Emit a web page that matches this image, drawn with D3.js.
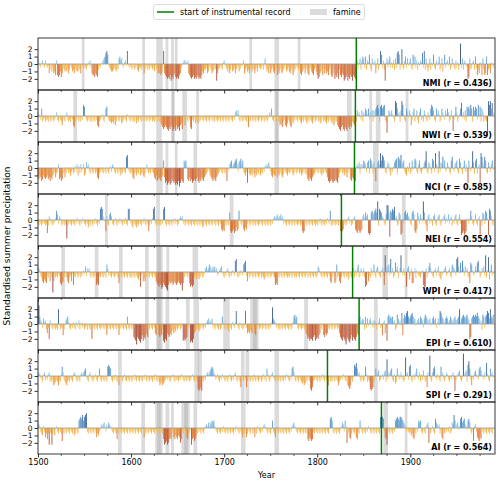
<!DOCTYPE html>
<html><head><meta charset="utf-8">
<script src="https://cdn.jsdelivr.net/npm/d3@7/dist/d3.min.js"></script>
<style>body{margin:0;background:#fff} svg{font-family:"DejaVu Sans",sans-serif}</style>
</head><body><svg id="c" width="500" height="482"></svg>
<script>
// ---- DATA ----
const regions = ["NMI","NWI","NCI","NEI","WPI","EPI","SPI","AI"];
const correlations = ["0.436","0.539","0.585","0.554","0.417","0.610","0.291","0.564"];
const instrumentStart = [1842,1841,1840,1826,1838,1845,1811,1869];
const firstYear = 1500;
const xTickLabels = [1500,1600,1700,1800,1900];
const yTickValues = [-2,-1,0,1,2];
// value code: a=-3.0 ... m=0 ... y=+3.0, z=+3.25 (steps of 0.25); one char per year, groups of 10 years
const valueCodes = "abcdefghijklmnopqrstuvwxyz";
const seriesNMI = "pnlknolkol klhjlikhig ogfgifhkji jikhjlkijh kjiikjhlkj lkjlnlokhg gfhgfjlkmn opqstrlkji ijkjikjpqo plknoltlkl kjlkjkljik kjlkhjkljk jlkjkiljkh highkthgfe fegdfeghfe feghklnoon nohgfefgef egfefegihj jkhilkjhij kjdhjklkjn olkjikhjli jkhjklijkl lohjkijhkj ikjhjkilkj kljlpkijhk hjkihjkgih jkhijklijk ihjkgijklk jkhgijkhjk hgjkihgjki gefhijgkhj higjkgfhje gfhejgfhgd efgdfegfdg fehoknpjoq pkqjonrkip nlohkpjltr kojdnpkoqk nkojpkstrj lukjoqkpln pkjrlqkojn lonsktjpki kpjnlrkjol nqjkpilrkn olqjkpnkjo knjlxkpjon lkefpjknoj qkgjhnkgpj ghqgjkhnlk";
const seriesNWI = "onlkqjkljk kjlkjlkjkl okjlkjhlkj lokjkjlkhg jklkjljlks rlkjkljkjl kjlkhgjkln kjlqrlkjji jikhjlkjkl ijklkjnlkj kljkjlikjl kjlkjlkjkl jkljkjkljk jkihgfghgf egfhgefgeh fgehifjkhl kjlkgfkjli kjiljklkjl kjlkjlkljk jlkjkljlkj lkjkljklkj lkopnpkjlk jklkjlgkjl kjlkjlkjkl jkljlkjklo lqkjlkjlkj hihgjkhgik jhgkijklkj lkjikjlkji kjlkjikljk ljkjikljkj ikjlkjikhj kjhgfeghfe gfehgfhgji hkjpnolkpj onqpnqkolp jplqrsqjrs qrskjdlpon pnljutqnoj pusnkjqolp nhkoqjlpki oqkljpnkjo lkqsrpkjqn pnjkqolkpn qojkpleknr ojlnqtlokp jrqrpsqjrp rqkslrjqoj lkjcusuqto";
const seriesNCI = "hgihfgihgh ighfhgijkh jkoghfgjkh jkljkikljk nkoinjoklo ijpnokjlkj kljkhgjklk jlkjlkjlnk onkjlkjlki kjlkjstlkj kjhgjkikjl ijkihjlokj kjlkjhgifg hgfhiqhefd efdegfefde dfcegfeqpq ngfhfgefgf ghfegfhgfh ijklkihgfh gfhijklkjl kjlfklopqn opqrokpqro qkjikeljij ikjhjikjli kjlknonopn kihjiikhji jkihjlkjik jklkijkljk ljkijkljki gfhgfhijkl kjlkjikjlk jhfefgfeff gfehjkljki jkhjlkgfhg gfnonpjoon qpokpqjrqo jpkfnpqouq tsqkjnpoki lknpqrjsrq topqkjinkp jkqlnrqkjo qkjlnpqvkj poljrqkuon jvkposnqkl pnkjqslkop qkjrpljnqk okeqlknvpj qrjnoeuspn sqkjpnkoql";
const seriesNEI = "kjlkjklkjk fjonkljkln rpkonkjlkj kcjklkjlkj lknlkjlknl kjlkikjlkj lknkjlksts onlgokjpqo kjlnkjlknl kjlknkjssl kjilkjikjl kjlknkjlkg jlknstkjlk jkjlkstkjl kjlkjlknkl jknonokljk lkjlkjlkjl kjlkjlkijl kjlkjlkjkl kjlkjlkhgh gkjlkjqgfg hfgighrlkj lhgihklkjl kjlkjlkjkl kjlkjlkjkl jlknonopno opnoklkjlk jlkjlkjlkj kljkgfglkj lkjlkjlkjk jlknkjlkjl knlkrjkjlk jkljlgfghk ljknokljkn ohgfhgfgho pnqopfefqr pqrsqwjsrq onkjpuuqdr qsrtnojkqp efnkqrpqon kjqrpgfhqo kpnlwqkjgo pknljopkjn opkjlnopkn lpknojlkop kjnpkefgef gnlknrokjl pkjnoeljqp krqnesrokj";
const seriesWPI = "ponkjhgihg kjlhkjbhkj kjlkgfghkj ljhgjkhlfk jlkjkljkln lpkonokjlk jklfgfkjlk jlkjqoklkj lkjklkjglk jlkjlkjlkj kjlkjlkjik eklhjhkjlk jlkjlkjhgf egfdegfedc fhgghfghgf ghgfgcgjkl kjlgefefjk ijkijkljkl opnoqpnopo pnoklnoplk jlknokjlkn lkstkjlknl kqrskhljkl kjlkjlkjkl jkjijkljkl jklkjfgfkj lkjlkjlkjk jlkjlkjkjl kjlkjlkjkl jlkjlkjlkj kpolkjlkjl kjlkhgjlkg hqjkhgjlkj lkjkilkjso jnkoqjkonk ojeflhkjok nqkjoplkjn okfvkpnqkt lojkrnpjmo vnkokleopi kogglojnlk kjlnfeeojl prolkjnokn pkjiklnopk lnokjqponk tuplrnsokp nokjgrqnkl pnrsnjkonp kvjnuinqkl";
const seriesEPI = "zwqonkpnoj hkeolkjlkj kjuljkkgjl opqnkjlknk jnlkojlnkl jkljlkjlel kjlkjlkjkl kjlkgjlkjl kjlkjlkgjk lkjlkjqkjl kjlfedbfed cegdfeghfk jlkjlkhgjk gfhgjdcedh gfhgijhjik jkljkldede fjklcdcehi jkjijklkjl knopnonpkl jklkjljkql kjlkjilkjn lkntlkjnlk jkltkhihji hkjhgjkljk ljklkjlkjl knvponkljk jlkjlkjlkj kljknqrpqk jlkjkljkhg efdeedfgde feghkjlgfh ghkjlkjlkj kljkhfedfe dbfedcegdf edfhgpqnop ojqkplopnk okonjlnpkl gnohkdqrpq pqnojkrpno lsgprqstqp qrsqoplnop nqpokprqpn oplnpqopkn pltsqponpq pnoqponpqo opqunpqrqp qrpoefpqrq rqsqpnojrq kqrtspuqpr";
const seriesSPI = "nonlkjnokl knojkjkhij kjhkjnrokj ihjkjlkjno nkjlkjnono pqlkjnolkj klnkjlqkjl kjlkjrsrqk jlknkjlhkl kjlnkjlkjl kjlknkjlkj lkjlknkjlk jlkjlknkjl jhijhijklk lkjklnkjlk kjlknlkjlk jlkjklnkjl kjfefgekjl knonopqrqo nklnkjlknl kjlkjlnkjl knokjlkjgl kjlkgjlkjl kjnkjlkjkl jknkljqnkj lnolkjlkjl kjlkjlknlk jlkqrokjlk jlkjijhikj lkjfegjklk jlkjlknkjl kjhljkjlkj lkjhjklknl kjlhgfhkjl srtqnokjlk jkrnjkjfef gjkqnopjkl nkopjvkonp qkjnijqnkl okljkwnokr skjlnkoqlk ojnkpljkgo nxkjoqrlkn lkjrnokjlo nkjlknokej lnopkjlyno pjsuqkhlko pnlkqrpnlk oltnkjqnol";
const seriesAI = "ponkjinkhj gjdkjdjkil nkjlkjfkjl kjlkjlkjli jlkjqrsrtq stukjlkjlk jlkhjiklon opnkonponl kjlkjgkjlk jlkjlkjlkj lkjlkjlkjl kjnlhkjlkj lkjlkjlkjl kjlkjgdefd eghgjkhgih gihegkjlkj hgjkldghfg ijklkjlkjl nonpnpoqpq nlkjlkjlkn kjlkjlkjlk jlknlkjlkj hkjlhjlkjl kjlhkjnlkj lknonlkjlk jlqkjhlkjl kjlkjlkjlk jlknopnlkj lkjlkjlkjl gfhgfgkjlk jlkjlkjlkj lkjlrsqkjl kjlkjlnpok qnejkhgjlk jlhgkjqlkj lkjlknlkjl kjlkjlkjso srkhgdnkjl kjlkqrsrqs srqponklkj kijhgkjlkq pqkjlkjnop ekjlnkjrpo nojlhgkjlk lknjkpotqn oplnrspqro nlqrpkjlfn okhgfhglkj lkjlkjlkjl";
const seriesCodes = [seriesNMI, seriesNWI, seriesNCI, seriesNEI, seriesWPI, seriesEPI, seriesSPI, seriesAI];
// famine periods per region [start, end]
const famineNMI = [[1547,1550],[1612,1615],[1627,1634],[1637,1640],[1643,1646],[1647,1650],[1727,1730],[1754,1759],[1779,1782]];
const famineNWI = [[1538,1542],[1612,1615],[1627,1633],[1643,1647],[1644,1646],[1655,1660],[1670,1673],[1754,1759],[1755,1758],[1832,1837],[1856,1859],[1863,1868],[1895,1898]];
const famineNCI = [[1627,1634],[1637,1640],[1647,1650],[1667,1671],[1754,1759],[1860,1866]];
const famineNEI = [[1572,1575],[1627,1631],[1706,1710],[1891,1895]];
const famineWPI = [[1525,1529],[1561,1565],[1587,1591],[1615,1619],[1627,1634],[1628,1632],[1638,1641],[1666,1672],[1870,1876],[1894,1897]];
const famineEPI = [[1615,1619],[1627,1634],[1628,1632],[1637,1641],[1659,1663],[1667,1673],[1699,1706],[1728,1737],[1731,1735],[1786,1790],[1861,1865]];
const famineSPI = [[1586,1590],[1668,1673],[1672,1676],[1718,1722],[1723,1727],[1754,1759],[1861,1865]];
const famineAI = [[1586,1590],[1611,1615],[1626,1634],[1628,1632],[1637,1641],[1643,1646],[1654,1663],[1657,1661],[1667,1671],[1718,1723],[1754,1759],[1871,1876],[1894,1897]];
const famines = [famineNMI, famineNWI, famineNCI, famineNEI, famineWPI, famineEPI, famineSPI, famineAI];

// ---- DRAW ----
function decode(s){
  return s.trim().split(/\s+/).flatMap(g => g.padEnd(10,"m").slice(0,10).split("")
    .map(c => (valueCodes.indexOf(c) - 12) * 0.25));
}
const svg = d3.select("#c");
const panelTop = 38, panelH = 52, left = 38, right = 495;
const x = d3.scaleLinear().domain([1500, 1991]).range([left, right]);
const y = d3.scaleLinear().domain([-3.5, 3.5]).range([panelH, 0]);
const negColor = d3.scaleLinear().domain([0,-0.5,-1,-1.5,-2,-2.5,-3])
  .range(["#fddc80","#fbc048","#f29a2e","#dd7228","#bf512e","#9d3f2b","#823224"]).clamp(true);
const posColor = d3.scaleLinear().domain([0,0.5,1,1.5,2,3])
  .range(["#b0dbef","#88c2e3","#579dd2","#3d7ab7","#35598e","#283d68"]).clamp(true);

regions.forEach((name, i) => {
  const g = svg.append("g").attr("transform", `translate(0,${panelTop + i*panelH})`);
  const values = decode(seriesCodes[i]);
  const data = values.map((v, k) => ({year: firstYear + k, v}));
  // famine bands
  g.selectAll("rect.famine").data(famines[i]).join("rect")
    .attr("class","famine")
    .attr("x", d => x(d[0])).attr("width", d => x(d[1]) - x(d[0]))
    .attr("y", 0).attr("height", panelH)
    .attr("fill", "#aaaaaa").attr("fill-opacity", 0.42);
  // bars
  g.selectAll("rect.bar").data(data).join("rect")
    .attr("class","bar")
    .attr("x", d => x(d.year - 0.46))
    .attr("width", d => x(d.year + 0.46) - x(d.year - 0.46))
    .attr("y", d => y(Math.max(0, d.v)))
    .attr("height", d => Math.abs(y(d.v) - y(0)))
    .attr("fill", d => d.v >= 0 ? posColor(d.v) : negColor(d.v));
  // zero line
  g.append("line").attr("x1", left).attr("x2", right).attr("y1", y(0)).attr("y2", y(0))
    .attr("stroke", "#999").attr("stroke-width", 0.8);
  // instrumental record start
  g.append("line").attr("x1", x(instrumentStart[i])).attr("x2", x(instrumentStart[i]))
    .attr("y1", 0).attr("y2", panelH).attr("stroke", "#008000").attr("stroke-width", 1.5);
  // y axis
  const ya = g.append("g").attr("transform", `translate(${left},0)`)
    .call(d3.axisLeft(y).tickValues(yTickValues).tickSize(3.5).tickPadding(2)
      .tickFormat(d => d < 0 ? "\u2212" + Math.abs(d) : String(d)));
  ya.select(".domain").remove();
  ya.selectAll("text").attr("font-size", 7.5).attr("font-family", "DejaVu Sans").attr("fill", "#000");
  ya.selectAll("line").attr("stroke", "#000").attr("stroke-width", 0.8);
  // x ticks
  const isLast = i === regions.length - 1;
  const minor = d3.range(1500, 1991, 25).filter(t => t % 100 !== 0);
  g.selectAll("line.minor").data(minor).join("line").attr("class","minor")
    .attr("x1", d => x(d)).attr("x2", d => x(d)).attr("y1", panelH).attr("y2", panelH + 2)
    .attr("stroke", "#000").attr("stroke-width", 0.6);
  const xa = g.append("g").attr("transform", `translate(0,${panelH})`)
    .call(d3.axisBottom(x).tickValues(xTickLabels).tickSize(3.5).tickPadding(2)
      .tickFormat(d => isLast ? String(d) : ""));
  xa.select(".domain").remove();
  xa.selectAll("text").attr("font-size", 8).attr("font-family", "DejaVu Sans").attr("fill", "#000");
  xa.selectAll("line").attr("stroke", "#000").attr("stroke-width", 0.8);
  // frame
  g.append("rect").attr("x", left).attr("y", 0).attr("width", right - left).attr("height", panelH)
    .attr("fill", "none").attr("stroke", "#222").attr("stroke-width", 0.9);
  // label
  g.append("text").attr("x", right - 3).attr("y", panelH - 4).attr("text-anchor", "end")
    .attr("font-size", 8).attr("font-weight", "bold").text(`${name} (r = ${correlations[i]})`);
});

// axis titles
svg.append("text").attr("x", (left + right) / 2).attr("y", 478).attr("text-anchor", "middle")
  .attr("font-size", 8).text("Year");
svg.append("text").attr("transform", `translate(10,${panelTop + 4*panelH}) rotate(-90)`)
  .attr("text-anchor", "middle").attr("font-size", 9).text("Standardised summer precipitation");

// legend
const lg = svg.append("g");
lg.append("rect").attr("x", 153.5).attr("y", 4.5).attr("width", 211).attr("height", 15).attr("rx", 2)
  .attr("fill", "#fff").attr("stroke", "#d0d0d0").attr("stroke-width", 0.8);
lg.append("line").attr("x1", 157).attr("x2", 174).attr("y1", 12).attr("y2", 12)
  .attr("stroke", "#008000").attr("stroke-width", 1.5);
lg.append("text").attr("x", 180).attr("y", 15).attr("font-size", 8).text("start of instrumental record");
lg.append("rect").attr("x", 310).attr("y", 9).attr("width", 17).attr("height", 6)
  .attr("fill", "#aaaaaa").attr("fill-opacity", 0.42);
lg.append("text").attr("x", 333).attr("y", 15).attr("font-size", 8).text("famine");
</script></body></html>
